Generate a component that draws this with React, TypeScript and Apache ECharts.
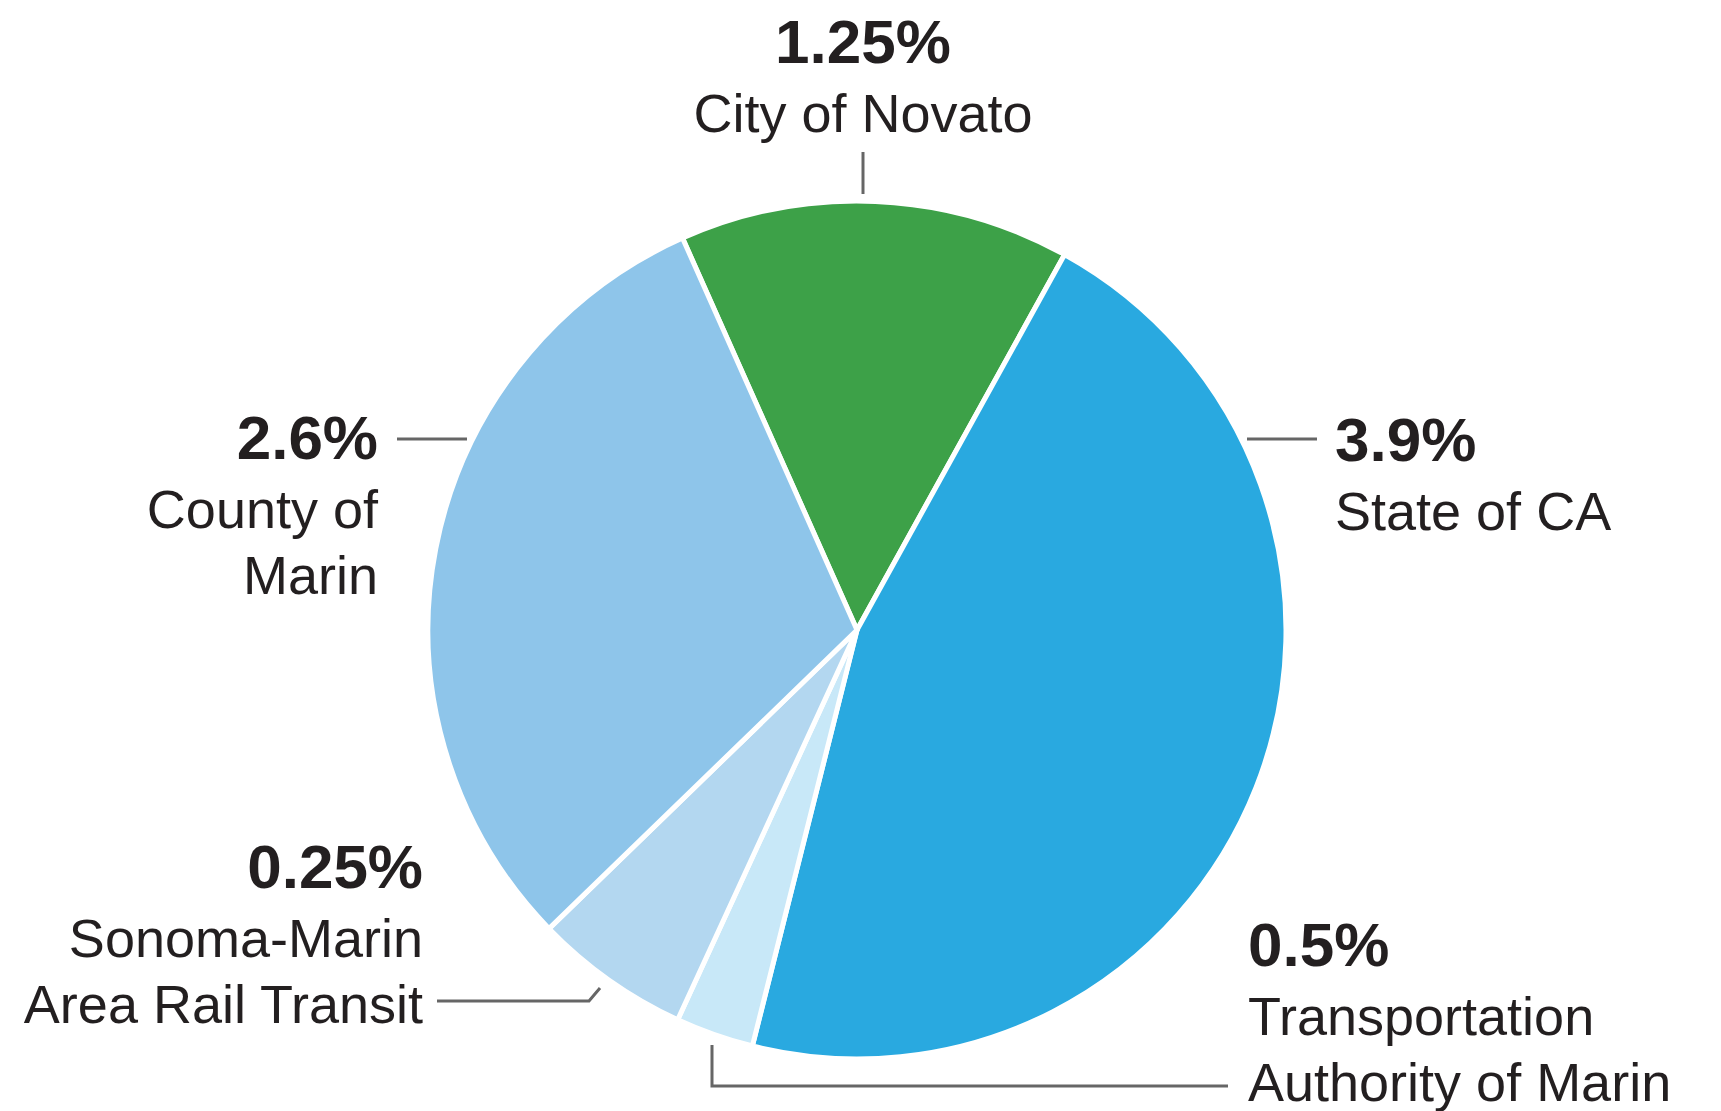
import React, { useEffect, useRef } from "react";
import * as echarts from "echarts";

// Slice order clockwise from the top, as drawn
const categories = [
  "City of Novato",
  "State of CA",
  "Transportation Authority of Marin",
  "Sonoma-Marin Area Rail Transit",
  "County of Marin",
];
// Slice sizes
const sliceShares = [1.25, 3.9, 0.25, 0.5, 2.6];
// Rate labels as printed
const rateLabels = ["1.25%", "3.9%", "0.5%", "0.25%", "2.6%"];
// Wrapped label names as printed
const labelNames = [
  "City of Novato",
  "State of CA",
  "Transportation\nAuthority of Marin",
  "Sonoma-Marin\nArea Rail Transit",
  "County of\nMarin",
];
const sliceColors = ["#3DA148", "#29A9E0", "#C8E8F8", "#B3D7F0", "#8EC5EA"];

// label anchor layout (pixels)
const labelPlacement = [
  { x: 863, y: 2, align: "center", line: [[863, 152], [863, 172], [863, 194]] },
  { x: 1335, y: 400, align: "left", line: [[1247, 439], [1280, 439], [1317, 439]] },
  { x: 1248, y: 905, align: "left", line: [[1228, 1086], [712, 1086], [712, 1045]] },
  { x: 423, y: 827, align: "right", line: [[437, 1001], [589, 1001], [600, 988]] },
  { x: 378, y: 398, align: "right", line: [[397, 439], [430, 439], [467, 439]] },
];

export default function App() {
  const ref = useRef<HTMLDivElement>(null);
  useEffect(() => {
    document.body.style.margin = "0";
    const chart = echarts.init(ref.current!, null, { renderer: "svg" });
    const font = "'Liberation Sans', Arial, sans-serif";
    chart.setOption({
      animation: false,
      backgroundColor: "#ffffff",
      series: [
        {
          type: "pie",
          center: [857, 630],
          radius: 429,
          startAngle: 114,
          clockwise: true,
          avoidLabelOverlap: false,
          data: categories.map((name, i) => ({
            name,
            value: sliceShares[i],
            itemStyle: { color: sliceColors[i] },
          })),
          itemStyle: { borderColor: "#ffffff", borderWidth: 5 },
          label: {
            show: true,
            position: "outside",
            fontFamily: font,
            color: "#231F20",
            formatter: (p: any) =>
              `{p|${rateLabels[p.dataIndex]}}\n` +
              labelNames[p.dataIndex]
                .split("\n")
                .map((l) => `{n|${l}}`)
                .join("\n"),
            rich: {
              p: {
                fontSize: 62,
                fontWeight: "bold",
                lineHeight: 78,
                fontFamily: font,
                color: "#231F20",
              },
              n: {
                fontSize: 54,
                lineHeight: 66,
                fontFamily: font,
                color: "#231F20",
              },
            },
          },
          labelLine: {
            show: true,
            lineStyle: { color: "#666666", width: 3 },
          },
          labelLayout: (params: any) => {
            const lp = labelPlacement[params.dataIndex];
            return {
              x: lp.x,
              y: lp.y,
              align: lp.align,
              verticalAlign: "top",
              labelLinePoints: lp.line,
            };
          },
        },
      ],
    });
    return () => chart.dispose();
  }, []);
  return <div ref={ref} style={{ width: 1721, height: 1111 }} />;
}
